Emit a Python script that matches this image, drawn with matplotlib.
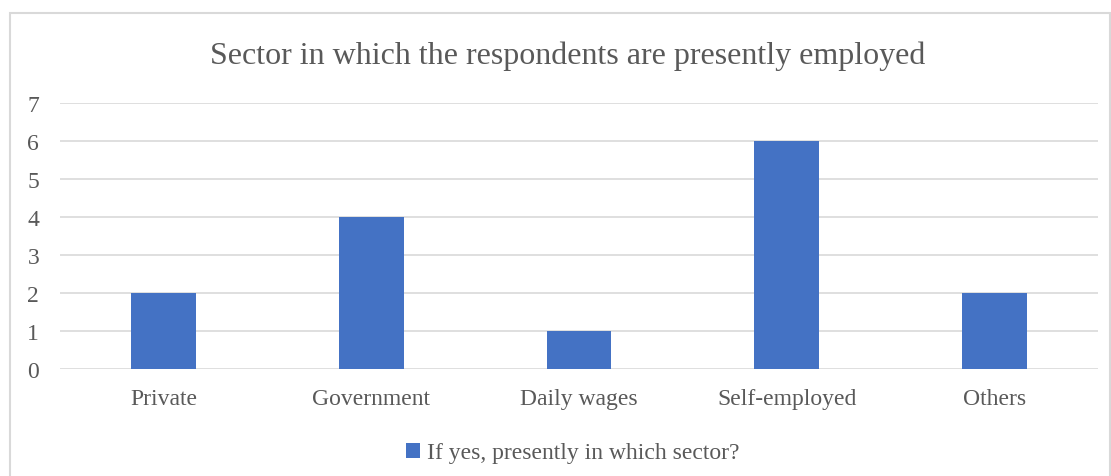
import matplotlib.pyplot as plt
from matplotlib.patches import Rectangle

plt.rcParams['font.family'] = ['Liberation Serif', 'DejaVu Serif']

sectors = ['Private', 'Government', 'Daily wages', 'Self-employed', 'Others']
counts = [2, 4, 1, 6, 2]
series_name = 'If yes, presently in which sector?'

W, H = 1111, 477
fig = plt.figure(figsize=(W / 100, H / 100), dpi=100)

# chart frame: light border, running off the bottom edge
fig.patches.append(Rectangle((10 / W, -0.05), 1100 / W, 1 - 14 / H + 0.05,
                             transform=fig.transFigure, fill=False,
                             edgecolor='#d9d9d9', linewidth=1.5))

ax = fig.add_axes([60 / W, 1 - 370 / H, 1038 / W, 266 / H])
x = range(len(sectors))
ax.bar(x, counts, width=0.313, color='#4472c4', label=series_name, zorder=3)

ax.set_xlim(-0.5, len(sectors) - 0.5)
ax.set_ylim(0, 7)
ax.set_yticks(range(8))
ax.set_xticks(list(x))
ax.set_xticklabels(sectors)
ax.yaxis.grid(True, color='#d9d9d9', linewidth=1.2, zorder=0)
for s in ax.spines.values():
    s.set_visible(False)
ax.tick_params(length=0, labelsize=17, colors='#595959')
ax.tick_params(axis='x', pad=14)
ax.tick_params(axis='y', pad=15)

fig.text(568 / W, 1 - 56 / H, 'Sector in which the respondents are presently employed',
         ha='center', va='center', fontsize=23, color='#595959')

ax.legend(loc='center', bbox_to_anchor=(573 / W, 1 - 454 / H),
          bbox_transform=fig.transFigure, frameon=False, fontsize=17,
          handlelength=0.6, handleheight=0.6, handletextpad=0.3,
          labelcolor='#595959')

fig.savefig('out.png', dpi=100)
